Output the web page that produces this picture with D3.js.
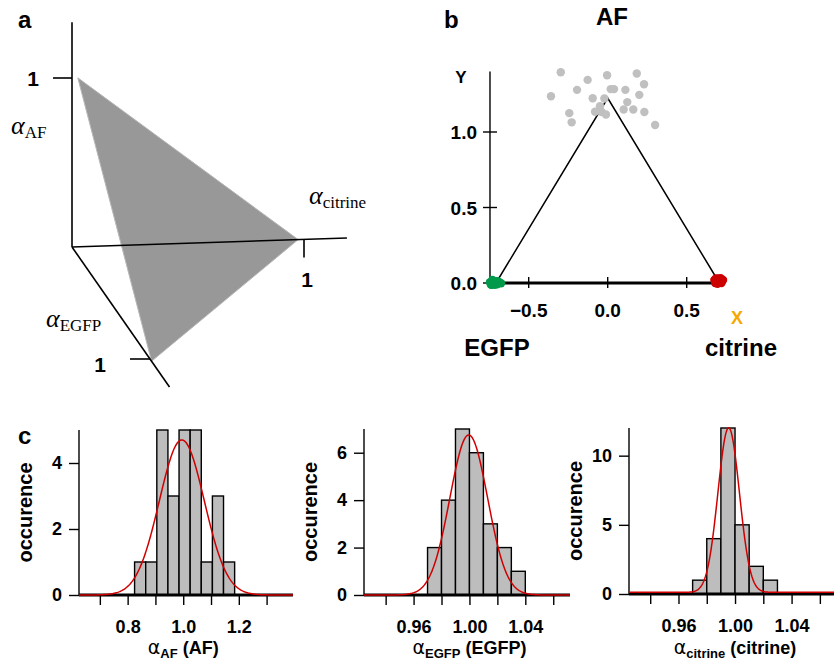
<!DOCTYPE html>
<html>
<head>
<meta charset="utf-8">
<script src="https://cdn.jsdelivr.net/npm/d3@7"></script>
<style>
  body { margin: 0; background: #fff; }
  svg text { font-family: "Liberation Sans", Arial, sans-serif; font-weight: bold; }
  .serif { font-family: "Liberation Serif", "Times New Roman", serif; font-weight: normal; }
</style>
</head>
<body>
<script>
// ---- panel a : simplex in 3D (af, citrine, egfp) ----
var simplex3d = [[1, 0.025, 0], [0, 0.975, 0], [0, 0, 1.02]];
var axisEnds3d = [[1.33, 0, 0], [0, 1.185, 0], [0, 0, 1.25]];

// ---- panel b : projection on the plane ----
var afPoints = [[-0.297,1.396],[-0.359,1.237],[-0.127,1.345],[-0.004,1.376],[0.184,1.387],
  [0.230,1.316],[-0.194,1.279],[-0.095,1.224],[-0.021,1.222],[0.019,1.284],[0.040,1.284],
  [0.112,1.279],[0.200,1.246],[0.124,1.198],[0.101,1.149],[0.162,1.149],[0.232,1.132],
  [-0.243,1.125],[-0.228,1.064],[-0.080,1.134],[-0.049,1.171],[-0.038,1.132],[-0.011,1.116],
  [0.300,1.046]];
var egfpPoints = [[-0.745,0.005],[-0.735,-0.012],[-0.725,0.015],[-0.71,0.0],[-0.70,-0.008],
  [-0.725,0.0],[-0.705,0.01],[-0.74,-0.01],[-0.685,0.004],[-0.715,-0.012],[-0.675,-0.002],
  [-0.695,0.012],[-0.73,0.02]];
var citrinePoints = [[0.675,0.02],[0.69,0.01],[0.70,0.03],[0.71,0.005],[0.725,0.015],
  [0.695,-0.005],[0.715,0.032],[0.705,0.012],[0.685,0.03],[0.72,0.0],[0.73,0.02],[0.68,0.0]];
var simplexVertices = [[-0.7071,0],[0,1.2247],[0.7071,0]];
var xTicksB = [-0.5, 0.0, 0.5];
var yTicksB = [0.0, 0.5, 1.0];

// ---- panel c : histograms ----
var afEdges = [0.825,0.865,0.905,0.945,0.985,1.025,1.065,1.105,1.145,1.185];
var afCounts = [1,1,5,3,5,5,1,3,1];
var afFit = [4.7, 0.995, 0.081, 0];        // amplitude, mean, sigma, offset
var afTicks = [0.7,0.8,0.9,1.0,1.1,1.2,1.3];
var afTickLabels = [0.8,1.0,1.2];
var afYTicks = [0,2,4];

var egfpEdges = [0.97,0.98,0.99,1.00,1.01,1.02,1.03,1.04];
var egfpCounts = [2,4,7,6,3,2,1];
var egfpFit = [6.75, 0.9995, 0.0135, 0];
var egfpTicks = [0.94,0.96,0.98,1.00,1.02,1.04,1.06];
var egfpTickLabels = [0.96,1.00,1.04];
var egfpYTicks = [0,2,4,6];

var citEdges = [0.97,0.98,0.99,1.00,1.01,1.02,1.03];
var citCounts = [1,4,12,5,2,1];
var citFit = [11.9, 0.9955, 0.0076, 0.12];
var citTicks = [0.94,0.96,0.98,1.00,1.02,1.04,1.06];
var citTickLabels = [0.96,1.00,1.04];
var citYTicks = [0,5,10];

var W = 834, H = 664;
var svg = d3.select("body").append("svg").attr("width", W).attr("height", H);

// panel letters
svg.append("text").attr("x", 18).attr("y", 28).style("font-size", "24px").text("a");
svg.append("text").attr("x", 444).attr("y", 28).style("font-size", "24px").text("b");
svg.append("text").attr("x", 18).attr("y", 444).style("font-size", "24px").text("c");

// ================= panel a =================
var ax = d3.scaleLinear().domain([0, 1]).range([0, 0]);      // af -> x offset
var ay = d3.scaleLinear().domain([0, 1]).range([0, -169]);   // af -> y offset
var cx = d3.scaleLinear().domain([0, 1]).range([0, 232]);
var cy = d3.scaleLinear().domain([0, 1]).range([0, -7.6]);
var ex = d3.scaleLinear().domain([0, 1]).range([0, 78]);
var ey = d3.scaleLinear().domain([0, 1]).range([0, 112]);
var origin = [72, 247];
function proj(p) {
  return [origin[0] + ax(p[0]) + cx(p[1]) + ex(p[2]),
          origin[1] + ay(p[0]) + cy(p[1]) + ey(p[2])];
}
var pa = svg.append("g");
pa.append("path")
  .attr("d", "M" + simplex3d.map(proj).join("L") + "Z")
  .attr("fill", "#989898")
  .attr("stroke", "#b8b8b8")
  .attr("stroke-width", 1);
axisEnds3d.forEach(function(e) {
  var p = proj(e);
  pa.append("line").attr("x1", origin[0]).attr("y1", origin[1])
    .attr("x2", p[0]).attr("y2", p[1])
    .attr("stroke", "#000").attr("stroke-width", 1.6);
});
// unit ticks
var tAF = proj([1, 0, 0]), tC = proj([0, 1, 0]), tE = proj([0, 0, 1]);
pa.append("line").attr("x1", tAF[0] - 19).attr("x2", tAF[0]).attr("y1", tAF[1]).attr("y2", tAF[1])
  .attr("stroke", "#000").attr("stroke-width", 1.6);
pa.append("line").attr("x1", tC[0]).attr("x2", tC[0]).attr("y1", tC[1]).attr("y2", tC[1] + 18)
  .attr("stroke", "#000").attr("stroke-width", 1.6);
pa.append("line").attr("x1", tE[0] - 20).attr("x2", tE[0]).attr("y1", tE[1]).attr("y2", tE[1])
  .attr("stroke", "#000").attr("stroke-width", 1.6);
pa.append("text").attr("x", tAF[0] - 39).attr("y", tAF[1] + 8).attr("text-anchor", "middle")
  .style("font-size", "21px").text("1");
pa.append("text").attr("x", tC[0] + 3).attr("y", tC[1] + 48).attr("text-anchor", "middle")
  .style("font-size", "21px").text("1");
pa.append("text").attr("x", tE[0] - 50).attr("y", tE[1] + 13).attr("text-anchor", "middle")
  .style("font-size", "21px").text("1");

function alphaLabel(g, x, y, sub) {
  var t = g.append("text").attr("class", "serif").attr("x", x).attr("y", y);
  t.append("tspan").style("font-size", "26px").style("font-style", "italic").text("\u03b1");
  t.append("tspan").style("font-size", "17px").attr("dy", 4).text(sub);
}
alphaLabel(pa, 11, 134, "AF");
alphaLabel(pa, 309, 204, "citrine");
alphaLabel(pa, 46, 327, "EGFP");

// ================= panel b =================
var xB = d3.scaleLinear().domain([0, 0.5]).range([607.7, 686.7]);
var yB = d3.scaleLinear().domain([0, 1]).range([283, 132]);
var pb = svg.append("g");
var yAxisX = xB(-0.745);
pb.append("line").attr("x1", yAxisX).attr("x2", yAxisX).attr("y1", yB(0)).attr("y2", yB(1.4))
  .attr("stroke", "#000").attr("stroke-width", 1.4);
pb.append("line").attr("x1", yAxisX).attr("x2", xB(0.74)).attr("y1", yB(0)).attr("y2", yB(0))
  .attr("stroke", "#000").attr("stroke-width", 3);
pb.selectAll(".ytb").data(yTicksB).enter().append("line")
  .attr("x1", yAxisX - 7).attr("x2", yAxisX + 7)
  .attr("y1", function(d) { return yB(d); }).attr("y2", function(d) { return yB(d); })
  .attr("stroke", "#000").attr("stroke-width", 1.4);
pb.selectAll(".ytl").data(yTicksB).enter().append("text")
  .attr("x", yAxisX - 13).attr("y", function(d) { return yB(d) + 7; })
  .attr("text-anchor", "end").style("font-size", "19px")
  .text(d3.format(".1f"));
pb.selectAll(".xtb").data(xTicksB).enter().append("line")
  .attr("x1", function(d) { return xB(d); }).attr("x2", function(d) { return xB(d); })
  .attr("y1", yB(0) - 6).attr("y2", yB(0) + 5)
  .attr("stroke", "#000").attr("stroke-width", 1.4);
pb.selectAll(".xtl").data(xTicksB).enter().append("text")
  .attr("x", function(d) { return xB(d); }).attr("y", yB(0) + 34)
  .attr("text-anchor", "middle").style("font-size", "19px")
  .text(d3.format(".1f"));
pb.append("path")
  .attr("d", d3.line().x(function(d) { return xB(d[0]); }).y(function(d) { return yB(d[1]); })(simplexVertices))
  .attr("fill", "none").attr("stroke", "#000").attr("stroke-width", 1.5);
function dots(data, color) {
  pb.append("g").selectAll("circle").data(data).enter().append("circle")
    .attr("cx", function(d) { return xB(d[0]); })
    .attr("cy", function(d) { return yB(d[1]); })
    .attr("r", 4.2).attr("fill", color);
}
dots(afPoints, "#c0c0c0");
dots(egfpPoints, "#009a4a");
dots(citrinePoints, "#cc0000");
pb.append("text").attr("x", 612).attr("y", 25).attr("text-anchor", "middle").style("font-size", "24px").text("AF");
pb.append("text").attr("x", 461).attr("y", 83).attr("text-anchor", "middle").style("font-size", "17px").text("Y");
pb.append("text").attr("x", 737).attr("y", 324).attr("text-anchor", "middle").style("font-size", "18px")
  .attr("fill", "#f5a800").text("X");
pb.append("text").attr("x", 497).attr("y", 356).attr("text-anchor", "middle").style("font-size", "24px").text("EGFP");
pb.append("text").attr("x", 741).attr("y", 356).attr("text-anchor", "middle").style("font-size", "24px").text("citrine");

// ================= panel c =================
function drawHist(left, right, top, bottom, xDom, yMax, edges, counts, fit, ticks, tickLabels, yTicks, fmt, sub, paren) {
  var g = svg.append("g");
  var x = d3.scaleLinear().domain(xDom).range([left, right]);
  var y = d3.scaleLinear().domain([0, yMax]).range([bottom, top]);
  var bins = counts.map(function(c, i) { return [edges[i], edges[i + 1], c]; });
  g.selectAll("rect").data(bins).enter().append("rect")
    .attr("x", function(d) { return x(d[0]); })
    .attr("width", function(d) { return x(d[1]) - x(d[0]); })
    .attr("y", function(d) { return y(d[2]); })
    .attr("height", function(d) { return y(0) - y(d[2]); })
    .attr("fill", "#bdbdbd").attr("stroke", "#000").attr("stroke-width", 1.4);
  // axes
  g.append("line").attr("x1", left).attr("x2", left).attr("y1", bottom).attr("y2", top)
    .attr("stroke", "#000").attr("stroke-width", 1.4);
  g.append("line").attr("x1", left).attr("x2", right).attr("y1", bottom).attr("y2", bottom)
    .attr("stroke", "#000").attr("stroke-width", 3);
  var xa = d3.axisBottom(x).tickValues(ticks).tickSize(10).tickPadding(15)
    .tickFormat(function(d) {
      return tickLabels.some(function(t) { return Math.abs(t - d) < 1e-9; }) ? fmt(d) : "";
    });
  var xg = g.append("g").attr("transform", "translate(0," + bottom + ")").call(xa);
  xg.select(".domain").remove();
  xg.selectAll("line").attr("stroke-width", 1.4);
  xg.selectAll("text").style("font-size", "18px").style("font-family", null).attr("fill", "#000");
  var ya = d3.axisLeft(y).tickValues(yTicks).tickSize(10).tickPadding(7).tickFormat(d3.format("d"));
  var yg = g.append("g").attr("transform", "translate(" + left + ",0)").call(ya);
  yg.select(".domain").remove();
  yg.selectAll("line").attr("stroke-width", 1.4);
  yg.selectAll("text").style("font-size", "18px").style("font-family", null).attr("fill", "#000");
  // gaussian fit
  var xs = d3.range(xDom[0], xDom[1] + 0.0001, (xDom[1] - xDom[0]) / 300);
  g.append("path")
    .attr("d", d3.line()
      .x(function(v) { return x(v); })
      .y(function(v) { return y(fit[3] + fit[0] * Math.exp(-0.5 * Math.pow((v - fit[1]) / fit[2], 2))); })(xs))
    .attr("fill", "none").attr("stroke", "#d00000").attr("stroke-width", 1.5);
  // labels
  g.append("text").attr("transform", "translate(" + (left - 47) + "," + ((top + bottom) / 2) + ") rotate(-90)")
    .attr("text-anchor", "middle").style("font-size", "20px").text("occurence");
  var t = g.append("text").attr("x", x(1.0)).attr("y", 654).attr("text-anchor", "middle");
  t.append("tspan").style("font-size", "19px").style("font-weight", "normal")
    .style("font-family", "'DejaVu Sans', sans-serif").text("\u03b1");
  t.append("tspan").style("font-size", "13px").attr("dy", 4).text(sub);
  t.append("tspan").style("font-size", "18px").attr("dy", -4).text(" (" + paren + ")");
}
drawHist(79, 293, 430, 595, [0.625, 1.395], 5, afEdges, afCounts, afFit,
  afTicks, afTickLabels, afYTicks, d3.format(".1f"), "AF", "AF");
drawHist(364, 570, 429, 595, [0.9245, 1.072], 7, egfpEdges, egfpCounts, egfpFit,
  egfpTicks, egfpTickLabels, egfpYTicks, d3.format(".2f"), "EGFP", "EGFP");
drawHist(629, 834, 428, 594, [0.925, 1.07], 12, citEdges, citCounts, citFit,
  citTicks, citTickLabels, citYTicks, d3.format(".2f"), "citrine", "citrine");
</script>
</body>
</html>
